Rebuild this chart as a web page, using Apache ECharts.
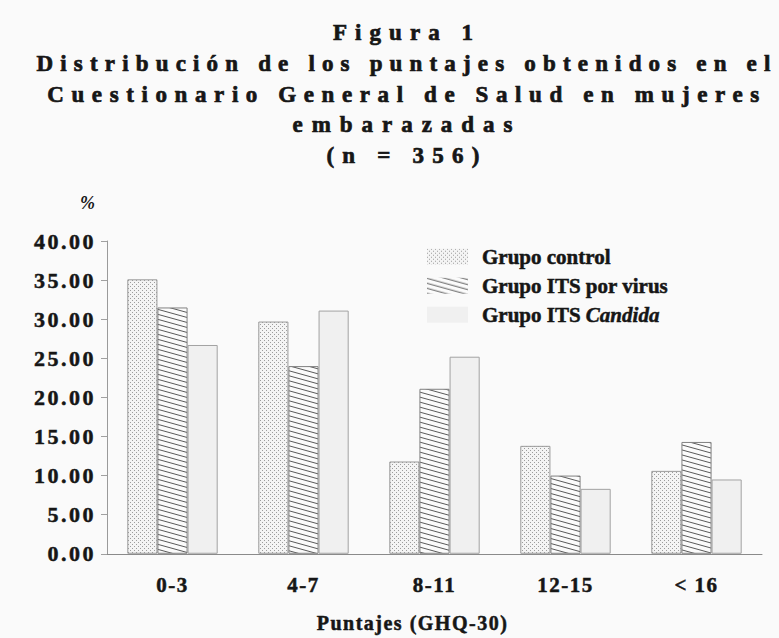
<!DOCTYPE html>
<html>
<head>
<meta charset="utf-8">
<script src="https://cdn.jsdelivr.net/npm/echarts@6/dist/echarts.min.js"></script>
<style>
  html, body { margin: 0; padding: 0; background: #fafafa; }
  #main { width: 779px; height: 638px; }
</style>
</head>
<body>
<div id="main"></div>
<script>
// datos
var categories = ['0-3', '4-7', '8-11', '12-15', '< 16'];
var grupoControl = [35.1, 29.7, 11.8, 13.8, 10.6];
var grupoVirus = [31.5, 24.0, 21.1, 10.0, 14.3];
var grupoCandida = [26.7, 31.1, 25.2, 8.3, 9.5];
var seriesNames = ['Grupo control', 'Grupo ITS por virus', 'Grupo ITS Candida'];
var titleLines = [
  'Figura 1',
  'Distribución de los puntajes obtenidos en el',
  'Cuestionario General de Salud en mujeres',
  'embarazadas',
  '(n = 356)'
];

var serif = '"Liberation Serif", "DejaVu Serif", serif';
var ink = '#161616';

// centro vertical y ancho de cada linea del titulo
var titleY = [32, 63, 94, 124, 155];
var titleW = [140, 734, 712, 220, 153];
var titleX = 407;

// tramas de relleno
function makeTile(w, h, draw) {
  var c = document.createElement('canvas');
  c.width = w; c.height = h;
  draw(c.getContext('2d'), w, h);
  return { image: c, repeat: 'repeat', imageWidth: w, imageHeight: h };
}
var dots = makeTile(4, 4, function (ctx, w, h) {
  ctx.fillStyle = '#f4f4f4';
  ctx.fillRect(0, 0, w, h);
  ctx.fillStyle = '#9c9c9c';
  ctx.fillRect(0, 0, 1, 1);
  ctx.fillRect(2, 2, 1, 1);
});
var hatch = makeTile(18, 5, function (ctx, w, h) {
  ctx.fillStyle = '#fbfbfb';
  ctx.fillRect(0, 0, w, h);
  ctx.strokeStyle = '#5a5a5a';
  ctx.lineWidth = 1;
  [-h, 0, h].forEach(function (off) {
    ctx.beginPath();
    ctx.moveTo(0, off + 0.5);
    ctx.lineTo(w, off + h + 0.5);
    ctx.stroke();
  });
});

var chart = echarts.init(document.getElementById('main'), null, { renderer: 'svg' });

var graphics = titleLines.map(function (t, i) {
  return {
    type: 'text',
    x: titleX,
    y: titleY[i],
    style: {
      text: t,
      font: 'bold 23px ' + serif,
      fill: ink,
      stroke: ink,
      lineWidth: 0.7,
      textAlign: 'center',
      textVerticalAlign: 'middle'
    }
  };
});

var boldText = { fontFamily: serif, fontWeight: 'bold', color: ink, textBorderColor: ink, textBorderWidth: 0.5 };

var option = {
  backgroundColor: '#fafafa',
  animation: false,
  textStyle: { fontFamily: serif, color: ink },
  graphic: graphics,
  legend: {
    orient: 'vertical',
    left: 422,
    top: 241,
    itemWidth: 41,
    itemHeight: 16,
    itemGap: 7.5,
    icon: 'rect',
    itemStyle: { borderWidth: 0 },
    textStyle: Object.assign({}, boldText, {
      fontSize: 21,
      lineHeight: 21,
      padding: [0, 0, 0, 9],
      rich: {
        n: Object.assign({}, boldText, { fontSize: 21, lineHeight: 21 }),
        i: Object.assign({}, boldText, { fontStyle: 'italic', fontSize: 21, lineHeight: 21 })
      }
    }),
    formatter: function (name) {
      if (name === 'Grupo ITS Candida') return '{n|Grupo ITS }{i|Candida}';
      return name;
    },
    data: seriesNames
  },
  grid: { left: 107, right: 17, top: 241, bottom: 75 },
  xAxis: {
    type: 'category',
    data: categories,
    name: 'Puntajes (GHQ-30)',
    nameLocation: 'middle',
    nameGap: 59,
    nameTextStyle: Object.assign({}, boldText, { fontSize: 20, padding: [0, 44, 0, 0] }),
    axisLine: { lineStyle: { color: '#8a8a8a', width: 1 } },
    axisTick: { show: false },
    axisLabel: Object.assign({}, boldText, { fontSize: 21, margin: 21 })
  },
  yAxis: {
    type: 'value',
    min: 0,
    max: 40,
    interval: 5,
    name: '%',
    nameLocation: 'end',
    nameGap: 29,
    nameTextStyle: { fontFamily: serif, fontStyle: 'italic', fontWeight: 'bold', fontSize: 18, color: ink, align: 'right', padding: [0, 12, 0, 0] },
    axisLine: { show: true, lineStyle: { color: '#9a9a9a', width: 1 } },
    axisTick: { show: true, length: 6, lineStyle: { color: '#a0a0a0' } },
    splitLine: { show: false },
    axisLabel: Object.assign({}, boldText, {
      fontSize: 22,
      margin: 11,
      formatter: function (v) { return v.toFixed(2); }
    })
  },
  series: [
    {
      name: seriesNames[0],
      type: 'bar',
      data: grupoControl,
      barGap: '0%',
      barCategoryGap: '31%',
      itemStyle: { color: dots, borderColor: '#9a9a9a', borderWidth: 1 }
    },
    {
      name: seriesNames[1],
      type: 'bar',
      data: grupoVirus,
      itemStyle: { color: hatch, borderColor: '#808080', borderWidth: 1 }
    },
    {
      name: seriesNames[2],
      type: 'bar',
      data: grupoCandida,
      itemStyle: { color: '#f0f0f0', borderColor: '#a2a2a2', borderWidth: 1 }
    }
  ]
};

chart.setOption(option);

// el original tiene el texto espaciado; se aplica letter-spacing en el SVG
function applySpacing() {
  var texts = document.querySelectorAll('#main text');
  texts.forEach(function (el) {
    var t = el.textContent;
    var idx = titleLines.indexOf(t);
    if (idx >= 0) {
      if (!el.__natural) el.__natural = el.getComputedTextLength();
      var sp = (titleW[idx] - el.__natural) / Math.max(1, t.length - 1);
      el.setAttribute('letter-spacing', sp.toFixed(2) + 'px');
    } else if (/^\d+\.00$/.test(t)) {
      el.setAttribute('letter-spacing', '2.5px');
    } else if (categories.indexOf(t) >= 0) {
      el.setAttribute('letter-spacing', '1.5px');
    } else if (t === 'Puntajes (GHQ-30)') {
      el.setAttribute('letter-spacing', '1.5px');
    }
  });
}
applySpacing();
chart.on('finished', applySpacing);
</script>
</body>
</html>
